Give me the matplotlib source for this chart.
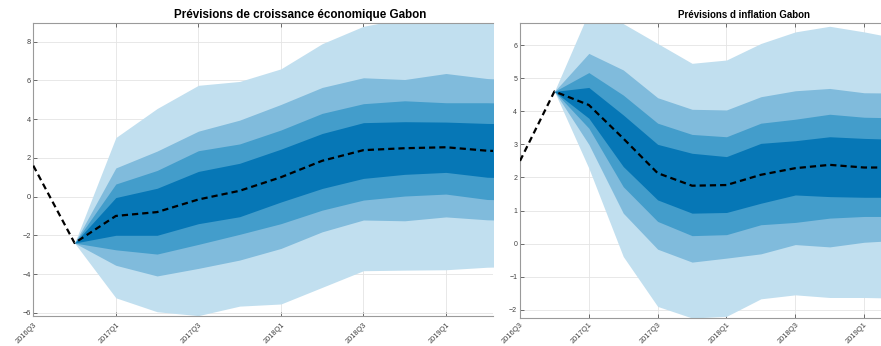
import matplotlib
matplotlib.use("Agg")
import matplotlib.pyplot as plt

plt.rcParams["font.family"] = ["Liberation Sans", "DejaVu Sans"]

# Quarter labels (index 0 = 2016Q3)
quarters = ["2016Q3", "2016Q4", "2017Q1", "2017Q2", "2017Q3", "2017Q4", "2018Q1",
            "2018Q2", "2018Q3", "2018Q4", "2019Q1", "2019Q2", "2019Q3"]
tick_labels = ["2016Q3", "2017Q1", "2017Q3", "2018Q1", "2018Q3", "2019Q1"]

# Croissance économique: observed + median path (from 2016Q3)
growth_median = [1.6, -2.4, -1.0, -0.8, -0.15, 0.3, 1.0, 1.85, 2.4, 2.5, 2.55, 2.37, 2.3]
# Fan bands (from 2016Q4 onwards)
growth_outer_hi = [-2.4, 3.05, 4.55, 5.75, 5.95, 6.6, 7.9, 8.8, 9.2, 9.3, 9.3, 9.3]
growth_b2_hi = [-2.4, 1.48, 2.35, 3.38, 3.95, 4.76, 5.64, 6.14, 6.05, 6.36, 6.1, 6.0]
growth_b3_hi = [-2.4, 0.65, 1.35, 2.37, 2.72, 3.44, 4.3, 4.8, 4.95, 4.85, 4.85, 4.8]
growth_in_hi = [-2.4, -0.05, 0.43, 1.3, 1.72, 2.45, 3.26, 3.82, 3.87, 3.85, 3.78, 3.75]
growth_in_lo = [-2.4, -2.0, -2.0, -1.4, -1.04, -0.28, 0.42, 0.94, 1.15, 1.25, 1.0, 0.95]
growth_b3_lo = [-2.4, -2.75, -2.97, -2.47, -1.95, -1.4, -0.7, -0.18, 0.03, 0.13, -0.15, -0.2]
growth_b2_lo = [-2.4, -3.55, -4.1, -3.71, -3.28, -2.68, -1.82, -1.21, -1.25, -1.05, -1.2, -1.25]
growth_outer_lo = [-2.4, -5.23, -5.95, -6.15, -5.66, -5.55, -4.69, -3.83, -3.8, -3.78, -3.65, -3.6]

# Inflation
infl_median = [2.5, 4.6, 4.19, 3.18, 2.13, 1.75, 1.77, 2.08, 2.28, 2.38, 2.3, 2.3, 2.3]
infl_outer_hi = [4.6, 7.0, 6.65, 6.05, 5.45, 5.55, 6.05, 6.4, 6.57, 6.4, 6.2, 6.1]
infl_b2_hi = [4.6, 5.75, 5.25, 4.41, 4.06, 4.04, 4.44, 4.62, 4.69, 4.56, 4.55, 4.55]
infl_b3_hi = [4.6, 5.17, 4.49, 3.64, 3.3, 3.23, 3.64, 3.76, 3.91, 3.82, 3.8, 3.8]
infl_in_hi = [4.6, 4.72, 3.89, 3.0, 2.73, 2.63, 3.03, 3.11, 3.23, 3.18, 3.15, 3.15]
infl_in_lo = [4.6, 3.79, 2.33, 1.32, 0.92, 0.94, 1.22, 1.47, 1.42, 1.4, 1.4, 1.4]
infl_b3_lo = [4.6, 3.49, 1.72, 0.67, 0.24, 0.27, 0.57, 0.64, 0.77, 0.82, 0.82, 0.82]
infl_b2_lo = [4.6, 3.0, 0.92, -0.17, -0.56, -0.44, -0.31, -0.03, -0.1, 0.04, 0.1, 0.1]
infl_outer_lo = [4.6, 2.28, -0.39, -1.9, -2.25, -2.2, -1.67, -1.55, -1.63, -1.63, -1.65, -1.65]

band_colors = ["#c1dfef", "#80bbdc", "#439dcb", "#0677b6"]
W, H = 881, 346


def px_axes(fig, x0, x1, ytop, ybot):
    return fig.add_axes([x0 / W, (H - ybot) / H, (x1 - x0) / W, (ybot - ytop) / H])


def draw_fan(ax, median, bands, xlim, ylim, yticks, xlabelsize, ylabelsize, xpad):
    xs = list(range(len(median)))
    xf = xs[1:]
    for (lo, hi), c in zip(bands, band_colors):
        ax.fill_between(xf, lo, hi, color=c, lw=0, zorder=2)
    ax.plot(xs, median, color="black", lw=1.6, dashes=(2.8, 1.8), zorder=3)
    ax.set_xlim(*xlim)
    ax.set_ylim(*ylim)
    ax.set_yticks(yticks)
    ax.set_xticks([quarters.index(t) for t in tick_labels])
    ax.set_xticklabels(tick_labels, rotation=45, ha="right", rotation_mode="anchor")
    ax.grid(True, color="#e4e4e4", lw=0.6, zorder=0)
    ax.set_axisbelow(True)
    ax.tick_params(direction="in", length=3, width=0.6, colors="#555555",
                   labelcolor="#404040", top=True, pad=2)
    ax.tick_params(axis="x", pad=xpad, labelsize=xlabelsize)
    ax.tick_params(axis="y", labelsize=ylabelsize)
    for s in ["left", "bottom", "top"]:
        ax.spines[s].set_color("#9a9a9a")
        ax.spines[s].set_linewidth(0.8)
    ax.spines["right"].set_visible(False)


fig = plt.figure(figsize=(W / 100, H / 100), dpi=100)

ax1 = px_axes(fig, 33.3, 493, 23, 316)
draw_fan(ax1, growth_median,
         [(growth_outer_lo, growth_outer_hi), (growth_b2_lo, growth_b2_hi),
          (growth_b3_lo, growth_b3_hi), (growth_in_lo, growth_in_hi)],
         (0, 11.14), (-6.17, 8.97), range(-6, 9, 2), 5.3, 5.3, 4)

ax2 = px_axes(fig, 520, 881, 23.3, 318)
draw_fan(ax2, infl_median,
         [(infl_outer_lo, infl_outer_hi), (infl_b2_lo, infl_b2_hi),
          (infl_b3_lo, infl_b3_hi), (infl_in_lo, infl_in_hi)],
         (0, 10.49), (-2.25, 6.66), range(-2, 7, 1), 5.4, 5.0, 2.5)

fig.text(300.5 / W, (H - 18) / H, "Prévisions de croissance économique Gabon",
         ha="center", va="baseline", fontsize=8.4, fontweight="bold")
fig.text(743.7 / W, (H - 18) / H, "Prévisions d inflation Gabon",
         ha="center", va="baseline", fontsize=7, fontweight="bold")

fig.savefig("out.png", dpi=100)
